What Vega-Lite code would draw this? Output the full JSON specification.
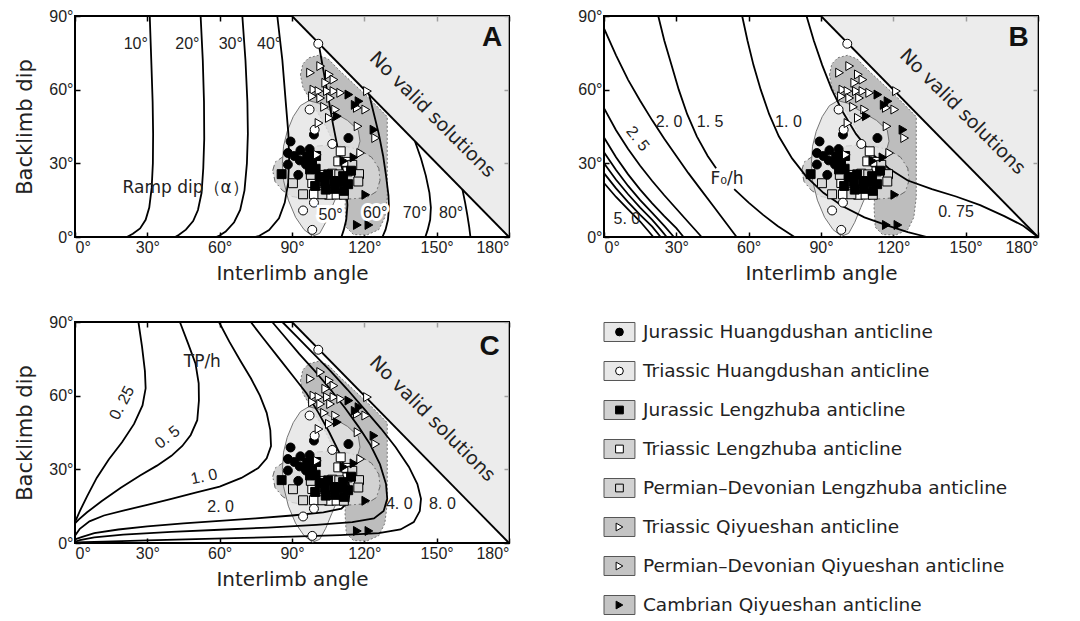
{
"$schema": "https://vega.github.io/schema/vega-lite/v6.json",
"background": "white",
"padding": {"left": 13, "top": 7, "right": 5, "bottom": 5},
"datasets": {
"tri": [{"x":90,"y":90,"y2":90},{"x":180,"y":0,"y2":90}],
"blobs": [
{"g":"Q","x":93.5,"y":66},{"g":"Q","x":94.5,"y":70.5},{"g":"Q","x":97,"y":73},{"g":"Q","x":101,"y":74},{"g":"Q","x":105,"y":72.5},{"g":"Q","x":110,"y":67.5},{"g":"Q","x":116,"y":62},{"g":"Q","x":122,"y":56.5},{"g":"Q","x":127,"y":51.5},{"g":"Q","x":129.5,"y":49},{"g":"Q","x":129.5,"y":40},{"g":"Q","x":129.5,"y":28},{"g":"Q","x":129.5,"y":16},{"g":"Q","x":128.5,"y":8},{"g":"Q","x":126,"y":3},{"g":"Q","x":121,"y":0.8},{"g":"Q","x":115.5,"y":1},{"g":"Q","x":112.5,"y":4},{"g":"Q","x":112,"y":12},{"g":"Q","x":112.5,"y":22},{"g":"Q","x":110,"y":33},{"g":"Q","x":104,"y":45},{"g":"Q","x":98,"y":55},{"g":"Q","x":94.5,"y":61},{"g":"Q","x":93.5,"y":66},
{"g":"L","x":82,"y":27},{"g":"L","x":83,"y":30.5},{"g":"L","x":86,"y":32.5},{"g":"L","x":90,"y":33.5},{"g":"L","x":95,"y":35.5},{"g":"L","x":100,"y":37},{"g":"L","x":106,"y":37.5},{"g":"L","x":112,"y":37},{"g":"L","x":118,"y":35.5},{"g":"L","x":123,"y":32.5},{"g":"L","x":126,"y":28},{"g":"L","x":126.5,"y":23},{"g":"L","x":125,"y":18.5},{"g":"L","x":121,"y":16},{"g":"L","x":114,"y":15.5},{"g":"L","x":105,"y":15.5},{"g":"L","x":96,"y":15.5},{"g":"L","x":90,"y":16.5},{"g":"L","x":86,"y":19},{"g":"L","x":83,"y":22.5},{"g":"L","x":82,"y":27},
{"g":"H","x":97,"y":55.5},{"g":"H","x":93.5,"y":53.5},{"g":"H","x":90.5,"y":49},{"g":"H","x":88,"y":43},{"g":"H","x":86.5,"y":37},{"g":"H","x":86,"y":30},{"g":"H","x":86.5,"y":23},{"g":"H","x":88.5,"y":15},{"g":"H","x":91.5,"y":8},{"g":"H","x":95,"y":3},{"g":"H","x":98.5,"y":0.3},{"g":"H","x":101.5,"y":1.5},{"g":"H","x":104,"y":6},{"g":"H","x":106.5,"y":12},{"g":"H","x":109.5,"y":19},{"g":"H","x":113,"y":26},{"g":"H","x":116.5,"y":33},{"g":"H","x":118.2,"y":39},{"g":"H","x":117.5,"y":43.5},{"g":"H","x":113,"y":47.5},{"g":"H","x":106,"y":51.5},{"g":"H","x":101,"y":54.5},{"g":"H","x":97,"y":55.5}
],
"pts": [
{"g":"TL","x":110.2,"y":34.9},{"g":"TL","x":109.2,"y":30.8},{"g":"TL","x":112.5,"y":30.6},{"g":"TL","x":113,"y":26.7},{"g":"TL","x":106.7,"y":25.8},{"g":"TL","x":102.6,"y":21.9},{"g":"TL","x":98.4,"y":22},{"g":"TL","x":99.1,"y":17.4},{"g":"TL","x":105.4,"y":17.2},{"g":"TL","x":108.5,"y":17.3},{"g":"TL","x":103.3,"y":25.3},
{"g":"PL","x":115,"y":29.4},{"g":"PL","x":117.8,"y":25.6},{"g":"PL","x":117.5,"y":22.6},{"g":"PL","x":109.6,"y":25.5},{"g":"PL","x":104.7,"y":21.9},{"g":"PL","x":97.8,"y":25.3},{"g":"PL","x":90.4,"y":21.9},{"g":"PL","x":94.6,"y":17.4},{"g":"PL","x":102.6,"y":17.4},{"g":"PL","x":111.5,"y":17.2},
{"g":"JL","x":85.7,"y":25.6},{"g":"JL","x":96.3,"y":32.8},{"g":"JL","x":98.3,"y":30.3},{"g":"JL","x":100,"y":33},{"g":"JL","x":97.5,"y":27.5},{"g":"JL","x":99.8,"y":27.8},{"g":"JL","x":101.5,"y":24.5},{"g":"JL","x":103.5,"y":22.5},{"g":"JL","x":105,"y":25.5},{"g":"JL","x":107.3,"y":22.8},{"g":"JL","x":109.5,"y":22.5},{"g":"JL","x":111.2,"y":24.8},{"g":"JL","x":113.3,"y":21.5},{"g":"JL","x":104,"y":19.3},{"g":"JL","x":107.7,"y":19.6},{"g":"JL","x":111.5,"y":18.8},{"g":"JL","x":99.6,"y":20.8},{"g":"JL","x":114.5,"y":27},
{"g":"JH","x":89.4,"y":38.9},{"g":"JH","x":99.1,"y":41.7},{"g":"JH","x":113.4,"y":40.3},{"g":"JH","x":88.3,"y":34.2},{"g":"JH","x":93.5,"y":35.3},{"g":"JH","x":97.3,"y":35.8},{"g":"JH","x":88.3,"y":29.5},{"g":"JH","x":93.2,"y":31.2},{"g":"JH","x":92.6,"y":25.3},{"g":"JH","x":95.8,"y":29.5},{"g":"JH","x":91,"y":33},
{"g":"TH","x":100.9,"y":78.7},{"g":"TH","x":97.3,"y":51.9},{"g":"TH","x":99.4,"y":43.7},{"g":"TH","x":106.7,"y":37.9},{"g":"TH","x":99.1,"y":14},{"g":"TH","x":94.6,"y":10.8},{"g":"TH","x":98.4,"y":2.9},
{"g":"TQ","x":97.7,"y":66.9},{"g":"TQ","x":101.9,"y":69.6},{"g":"TQ","x":105.5,"y":66.2},{"g":"TQ","x":104,"y":62.8},{"g":"TQ","x":99.1,"y":60},{"g":"TQ","x":101.2,"y":59.4},{"g":"TQ","x":104.7,"y":59.4},{"g":"TQ","x":98.5,"y":57.3},{"g":"TQ","x":101.9,"y":56.6},{"g":"TQ","x":105.5,"y":48.5},{"g":"TQ","x":101.2,"y":46.4},{"g":"TQ","x":100.5,"y":33.5},
{"g":"PQ","x":107.4,"y":64.1},{"g":"PQ","x":107.4,"y":59.4},{"g":"PQ","x":110.2,"y":58.7},{"g":"PQ","x":106,"y":56.6},{"g":"PQ","x":108.1,"y":51.9},{"g":"PQ","x":117.1,"y":52.6},{"g":"PQ","x":120.6,"y":51.9},{"g":"PQ","x":121.3,"y":59.4},{"g":"PQ","x":117.4,"y":45.1},{"g":"PQ","x":124.7,"y":40.3},{"g":"PQ","x":118.5,"y":34.2},{"g":"PQ","x":103.5,"y":53},
{"g":"CQ","x":113.6,"y":58},{"g":"CQ","x":117.8,"y":55.3},{"g":"CQ","x":116.2,"y":53.8},{"g":"CQ","x":108.8,"y":49.2},{"g":"CQ","x":124,"y":43.7},{"g":"CQ","x":115.7,"y":32.4},{"g":"CQ","x":120.6,"y":17.2},{"g":"CQ","x":117.1,"y":4.9},{"g":"CQ","x":121.9,"y":4.9},{"g":"CQ","x":111.5,"y":31}
],
"contA": [
{"c":"10","x":31,"y":90},{"c":"10","x":31.7,"y":70},{"c":"10","x":32.2,"y":55},{"c":"10","x":32.4,"y":42},{"c":"10","x":32.3,"y":30},{"c":"10","x":31.8,"y":20},{"c":"10","x":30.8,"y":12},{"c":"10","x":29.3,"y":7},{"c":"10","x":27,"y":3.5},{"c":"10","x":24,"y":1.3},{"c":"10","x":21.5,"y":0},
{"c":"20","x":52.1,"y":90},{"c":"20","x":53,"y":72},{"c":"20","x":53.5,"y":55},{"c":"20","x":53.6,"y":40},{"c":"20","x":53.2,"y":28},{"c":"20","x":52.5,"y":18},{"c":"20","x":51,"y":11},{"c":"20","x":49,"y":6.5},{"c":"20","x":46,"y":3},{"c":"20","x":43,"y":0.8},{"c":"20","x":41.5,"y":0},
{"c":"30","x":69.4,"y":90},{"c":"30","x":70.7,"y":72},{"c":"30","x":71.5,"y":55},{"c":"30","x":71.7,"y":42},{"c":"30","x":71.3,"y":30},{"c":"30","x":70.3,"y":19},{"c":"30","x":68.5,"y":11},{"c":"30","x":66,"y":6},{"c":"30","x":62.5,"y":2.2},{"c":"30","x":60,"y":0.6},{"c":"30","x":58.5,"y":0},
{"c":"40","x":83.9,"y":90},{"c":"40","x":86,"y":72},{"c":"40","x":87.4,"y":55},{"c":"40","x":88.5,"y":42},{"c":"40","x":88.8,"y":32},{"c":"40","x":88.4,"y":22},{"c":"40","x":87,"y":14},{"c":"40","x":84.6,"y":7.6},{"c":"40","x":80.5,"y":2.8},{"c":"40","x":76.5,"y":0.5},{"c":"40","x":74.5,"y":0},
{"c":"50","x":101,"y":79},{"c":"50","x":103,"y":68},{"c":"50","x":105,"y":57},{"c":"50","x":107,"y":46},{"c":"50","x":109,"y":36},{"c":"50","x":111,"y":27},{"c":"50","x":112.5,"y":19},{"c":"50","x":113,"y":13},{"c":"50","x":112.5,"y":7},{"c":"50","x":111.5,"y":3},{"c":"50","x":110.5,"y":0},
{"c":"60","x":122,"y":58},{"c":"60","x":124,"y":50},{"c":"60","x":126,"y":42},{"c":"60","x":127.8,"y":33},{"c":"60","x":129,"y":25},{"c":"60","x":130,"y":17},{"c":"60","x":130.2,"y":12},{"c":"60","x":129.8,"y":7},{"c":"60","x":128.8,"y":3},{"c":"60","x":127.5,"y":0},
{"c":"70","x":141,"y":39},{"c":"70","x":143.5,"y":32},{"c":"70","x":145.5,"y":25},{"c":"70","x":147,"y":18},{"c":"70","x":147.6,"y":12},{"c":"70","x":147.3,"y":7},{"c":"70","x":146.3,"y":3},{"c":"70","x":145.3,"y":0},
{"c":"80","x":160.7,"y":19.3},{"c":"80","x":161.8,"y":14},{"c":"80","x":162.7,"y":9},{"c":"80","x":163.5,"y":4},{"c":"80","x":164,"y":0}
],
"contB": [
{"c":"5.0","x":0,"y":22},{"c":"5.0","x":5,"y":16.3},{"c":"5.0","x":10,"y":11.2},{"c":"5.0","x":15,"y":6.3},{"c":"5.0","x":20.5,"y":0},
{"c":"4.5","x":0,"y":26},{"c":"4.5","x":5,"y":19.8},{"c":"4.5","x":10,"y":14.2},{"c":"4.5","x":15,"y":9},{"c":"4.5","x":20,"y":4.2},{"c":"4.5","x":23.5,"y":0},
{"c":"4.0","x":0,"y":30},{"c":"4.0","x":5,"y":23.3},{"c":"4.0","x":10,"y":17.4},{"c":"4.0","x":15,"y":12},{"c":"4.0","x":20,"y":7},{"c":"4.0","x":23.5,"y":3},{"c":"4.0","x":26,"y":0},
{"c":"3.5","x":0,"y":34.5},{"c":"3.5","x":5,"y":27.3},{"c":"3.5","x":10,"y":20.8},{"c":"3.5","x":15,"y":15},{"c":"3.5","x":20,"y":9.8},{"c":"3.5","x":25,"y":4.5},{"c":"3.5","x":29,"y":0},
{"c":"3.0","x":0,"y":40.5},{"c":"3.0","x":5,"y":32.5},{"c":"3.0","x":10,"y":25.5},{"c":"3.0","x":15,"y":19.3},{"c":"3.0","x":20,"y":13.7},{"c":"3.0","x":25,"y":8.5},{"c":"3.0","x":30,"y":3.6},{"c":"3.0","x":33,"y":0},
{"c":"2.5","x":0,"y":52.5},{"c":"2.5","x":5,"y":43.5},{"c":"2.5","x":10,"y":35.8},{"c":"2.5","x":15,"y":29},{"c":"2.5","x":20,"y":22.8},{"c":"2.5","x":25,"y":17},{"c":"2.5","x":30,"y":11.5},{"c":"2.5","x":35,"y":6},{"c":"2.5","x":40.5,"y":0},
{"c":"2.0","x":0,"y":85},{"c":"2.0","x":5,"y":74},{"c":"2.0","x":10,"y":64},{"c":"2.0","x":15,"y":55.5},{"c":"2.0","x":20,"y":47.5},{"c":"2.0","x":25,"y":40},{"c":"2.0","x":30,"y":33},{"c":"2.0","x":35,"y":26},{"c":"2.0","x":40,"y":19.5},{"c":"2.0","x":45,"y":13},{"c":"2.0","x":50,"y":6.5},{"c":"2.0","x":55,"y":0},
{"c":"1.5a","x":22.5,"y":90},{"c":"1.5a","x":25,"y":80},{"c":"1.5a","x":28,"y":70},{"c":"1.5a","x":31,"y":60},{"c":"1.5a","x":34.5,"y":50},{"c":"1.5a","x":38.5,"y":41},{"c":"1.5a","x":43,"y":33},{"c":"1.5a","x":46.5,"y":28},
{"c":"1.5b","x":54,"y":19.5},{"c":"1.5b","x":60,"y":14},{"c":"1.5b","x":66,"y":9},{"c":"1.5b","x":72,"y":4.5},{"c":"1.5b","x":79,"y":0},
{"c":"1.0","x":57.3,"y":90},{"c":"1.0","x":59.5,"y":80},{"c":"1.0","x":62,"y":70},{"c":"1.0","x":65,"y":60},{"c":"1.0","x":68.5,"y":50},{"c":"1.0","x":72.5,"y":41},{"c":"1.0","x":78,"y":32},{"c":"1.0","x":84,"y":24.5},{"c":"1.0","x":91,"y":18},{"c":"1.0","x":99,"y":12.5},{"c":"1.0","x":108,"y":8},{"c":"1.0","x":118,"y":4.5},{"c":"1.0","x":126,"y":2},{"c":"1.0","x":134,"y":0},
{"c":"0.75","x":84,"y":90},{"c":"0.75","x":87,"y":80},{"c":"0.75","x":90.5,"y":70},{"c":"0.75","x":94.5,"y":60},{"c":"0.75","x":99,"y":51},{"c":"0.75","x":104.5,"y":42},{"c":"0.75","x":111,"y":34},{"c":"0.75","x":118,"y":28},{"c":"0.75","x":126,"y":23},{"c":"0.75","x":136,"y":19.5},{"c":"0.75","x":146,"y":16.5},{"c":"0.75","x":156,"y":13},{"c":"0.75","x":166,"y":8.5},{"c":"0.75","x":174,"y":4.5},{"c":"0.75","x":180,"y":0}
],
"contC": [
{"c":"0.25","x":26.3,"y":90},{"c":"0.25","x":27.8,"y":80},{"c":"0.25","x":29,"y":70},{"c":"0.25","x":29.3,"y":63},{"c":"0.25","x":28,"y":56},{"c":"0.25","x":24.5,"y":48.5},{"c":"0.25","x":19.5,"y":41},{"c":"0.25","x":14,"y":34},{"c":"0.25","x":9,"y":26.5},{"c":"0.25","x":5,"y":19},{"c":"0.25","x":2,"y":13},{"c":"0.25","x":0,"y":8.5},
{"c":"0.5","x":43.5,"y":90},{"c":"0.5","x":47,"y":81},{"c":"0.5","x":50,"y":73},{"c":"0.5","x":51.3,"y":65},{"c":"0.5","x":51.4,"y":58},{"c":"0.5","x":50.7,"y":50},{"c":"0.5","x":48,"y":44},{"c":"0.5","x":44.5,"y":39.5},{"c":"0.5","x":40,"y":35.5},{"c":"0.5","x":34,"y":31.5},{"c":"0.5","x":27,"y":27.5},{"c":"0.5","x":19,"y":22.5},{"c":"0.5","x":11,"y":17},{"c":"0.5","x":5,"y":12.5},{"c":"0.5","x":1.5,"y":9.5},{"c":"0.5","x":0,"y":8},
{"c":"1.0","x":59.7,"y":90},{"c":"1.0","x":64,"y":82},{"c":"1.0","x":68.7,"y":74},{"c":"1.0","x":73,"y":67},{"c":"1.0","x":76.7,"y":60},{"c":"1.0","x":79.5,"y":53},{"c":"1.0","x":81,"y":46},{"c":"1.0","x":81.3,"y":39.5},{"c":"1.0","x":79.5,"y":34.5},{"c":"1.0","x":76,"y":30.5},{"c":"1.0","x":69,"y":26.5},{"c":"1.0","x":60,"y":23},{"c":"1.0","x":50,"y":20.5},{"c":"1.0","x":40,"y":18},{"c":"1.0","x":30,"y":15.5},{"c":"1.0","x":20,"y":13.2},{"c":"1.0","x":12,"y":11.2},{"c":"1.0","x":6,"y":8.8},{"c":"1.0","x":2,"y":5.8},{"c":"1.0","x":0,"y":3},
{"c":"2.0","x":72.9,"y":90},{"c":"2.0","x":78,"y":83.5},{"c":"2.0","x":84,"y":76},{"c":"2.0","x":90,"y":68.5},{"c":"2.0","x":96,"y":61},{"c":"2.0","x":101,"y":53},{"c":"2.0","x":105.5,"y":45},{"c":"2.0","x":109.5,"y":37},{"c":"2.0","x":112.5,"y":29},{"c":"2.0","x":114,"y":22},{"c":"2.0","x":113.5,"y":17},{"c":"2.0","x":110.5,"y":14},{"c":"2.0","x":103,"y":12.5},{"c":"2.0","x":90,"y":11.2},{"c":"2.0","x":75,"y":10},{"c":"2.0","x":60,"y":9},{"c":"2.0","x":45,"y":8},{"c":"2.0","x":30,"y":6.8},{"c":"2.0","x":18,"y":5.5},{"c":"2.0","x":8,"y":4},{"c":"2.0","x":3,"y":2.5},{"c":"2.0","x":0,"y":1.5},
{"c":"4.0","x":81.8,"y":90},{"c":"4.0","x":87,"y":84},{"c":"4.0","x":93,"y":77},{"c":"4.0","x":99.5,"y":70},{"c":"4.0","x":106,"y":62.5},{"c":"4.0","x":112,"y":55},{"c":"4.0","x":117.5,"y":47.5},{"c":"4.0","x":122.5,"y":40},{"c":"4.0","x":126.5,"y":32},{"c":"4.0","x":129,"y":24},{"c":"4.0","x":129.5,"y":18},{"c":"4.0","x":128,"y":13},{"c":"4.0","x":124,"y":10},{"c":"4.0","x":115,"y":8.5},{"c":"4.0","x":100,"y":7.4},{"c":"4.0","x":80,"y":6.3},{"c":"4.0","x":60,"y":5.4},{"c":"4.0","x":40,"y":4.5},{"c":"4.0","x":20,"y":3.4},{"c":"4.0","x":8,"y":2.3},{"c":"4.0","x":2,"y":1.2},{"c":"4.0","x":0,"y":0.5},
{"c":"8.0","x":86,"y":90},{"c":"8.0","x":92,"y":84},{"c":"8.0","x":99,"y":77},{"c":"8.0","x":106,"y":70},{"c":"8.0","x":113,"y":62.5},{"c":"8.0","x":120,"y":54.5},{"c":"8.0","x":127,"y":46.5},{"c":"8.0","x":133,"y":39},{"c":"8.0","x":138.5,"y":31},{"c":"8.0","x":142,"y":24},{"c":"8.0","x":143.5,"y":18},{"c":"8.0","x":143,"y":13},{"c":"8.0","x":140.5,"y":8.5},{"c":"8.0","x":135,"y":5.5},{"c":"8.0","x":126,"y":4},{"c":"8.0","x":110,"y":3.2},{"c":"8.0","x":90,"y":2.6},{"c":"8.0","x":70,"y":2.1},{"c":"8.0","x":50,"y":1.6},{"c":"8.0","x":30,"y":1.1},{"c":"8.0","x":12,"y":0.6},{"c":"8.0","x":0,"y":0.2}
],
"labA": [
{"k":"v","x":25.2,"y":78.4,"t":"10°"},{"k":"v","x":46.6,"y":78.4,"t":"20°"},{"k":"v","x":64.6,"y":78.4,"t":"30°"},{"k":"v","x":80.5,"y":78.4,"t":"40°"},
{"k":"h","x":106,"y":9,"t":"50°"},{"k":"h","x":124.5,"y":9.7,"t":"60°"},{"k":"v","x":141,"y":9.7,"t":"70°"},{"k":"v","x":156,"y":9.7,"t":"80°"},
{"k":"n","x":45.9,"y":20,"t":"Ramp dip（α）"},{"k":"L","x":173,"y":81,"t":"A"},{"k":"r","x":148.2,"y":49.8,"t":"No valid solutions"}
],
"labB": [
{"k":"v","x":9.5,"y":7.5,"t":"5. 0"},{"k":"r52","x":14,"y":40,"t":"2. 5"},{"k":"v","x":27,"y":47,"t":"2. 0"},{"k":"v","x":44,"y":47,"t":"1. 5"},{"k":"v","x":76.5,"y":47,"t":"1. 0"},
{"k":"n","x":51,"y":23.5,"t":"F₀/h"},{"k":"v","x":146,"y":10,"t":"0. 75"},{"k":"L","x":172,"y":81,"t":"B"},{"k":"r","x":148.7,"y":51,"t":"No valid solutions"}
],
"labC": [
{"k":"n","x":52.8,"y":73.9,"t":"TP/h"},{"k":"r-62","x":19.5,"y":57,"t":"0. 25"},{"k":"r-38","x":38.3,"y":43,"t":"0. 5"},{"k":"r-12","x":53.5,"y":27,"t":"1. 0"},
{"k":"v","x":60.4,"y":14.5,"t":"2. 0"},{"k":"v","x":134.5,"y":15.7,"t":"4. 0"},{"k":"v","x":152.4,"y":15.7,"t":"8. 0"},{"k":"L","x":172,"y":80,"t":"C"},{"k":"r","x":148.2,"y":50.6,"t":"No valid solutions"}
],
"leg": [
{"g":"JH","box":"H","label":"Jurassic Huangdushan anticline"},
{"g":"TH","box":"H","label":"Triassic Huangdushan anticline"},
{"g":"JL","box":"L","label":"Jurassic Lengzhuba anticline"},
{"g":"TL","box":"L","label":"Triassic Lengzhuba anticline"},
{"g":"PL","box":"L","label":"Permian–Devonian Lengzhuba anticline"},
{"g":"TQ","box":"Q","label":"Triassic Qiyueshan anticline"},
{"g":"PQ","box":"Q","label":"Permian–Devonian Qiyueshan anticline"},
{"g":"CQ","box":"Q","label":"Cambrian Qiyueshan anticline"}
]
},
"columns": 2,
"spacing": {"row": 85, "column": 95},
"bounds": "flush",
"resolve": {"scale": {"x": "independent", "y": "independent", "fill": "independent", "shape": "independent", "strokeDash": "independent"}},
"concat": [
{"width": 434, "height": 221,
 "layer": [
  {"data": {"name": "tri"}, "mark": {"type": "area", "color": "#e4e4e4", "line": {"color": "black", "strokeWidth": 1.8}},
   "encoding": {
    "x": {"field": "x", "type": "quantitative", "scale": {"domain": [0, 180], "nice": false, "zero": false}, "axis": {"orient": "bottom", "values": [0,30,60,90,120,150,180], "labelExpr": "datum.value + '°'", "title": "Interlimb angle"}},
    "y": {"field": "y", "type": "quantitative", "scale": {"domain": [0, 90], "nice": false, "zero": false}, "axis": {"orient": "left", "values": [0,30,60,90], "labelExpr": "datum.value + '°'", "title": "Backlimb dip"}},
    "y2": {"field": "y2"}}},
  {"data": {"name": "blobs"}, "transform": [{"filter": "datum.g == 'Q'"}], "mark": {"type": "line", "fill": "#bdbdbd", "stroke": "#777", "strokeWidth": 1, "strokeDash": [2, 2]},
   "encoding": {"x": {"field": "x", "type": "quantitative", "axis": null}, "y": {"field": "y", "type": "quantitative", "axis": null}, "order": {"value": null}}},
  {"data": {"name": "blobs"}, "transform": [{"filter": "datum.g == 'L'"}], "mark": {"type": "line", "fill": "#d2d2d2", "stroke": "#666", "strokeWidth": 1, "strokeDash": [6, 3, 1.5, 3]},
   "encoding": {"x": {"field": "x", "type": "quantitative", "axis": null}, "y": {"field": "y", "type": "quantitative", "axis": null}, "order": {"value": null}}},
  {"data": {"name": "blobs"}, "transform": [{"filter": "datum.g == 'H'"}], "mark": {"type": "line", "fill": "#e4e4e4", "fillOpacity": 0.8, "stroke": "#666", "strokeWidth": 0.9},
   "encoding": {"x": {"field": "x", "type": "quantitative", "axis": null}, "y": {"field": "y", "type": "quantitative", "axis": null}, "order": {"value": null}}},
  {"data": {"name": "contA"}, "mark": {"type": "line", "color": "black", "strokeWidth": 1.8},
   "encoding": {"x": {"field": "x", "type": "quantitative", "axis": {"orient": "top", "values": [0,30,60,90,120,150,180], "labels": false, "title": null}},
    "y": {"field": "y", "type": "quantitative", "axis": {"orient": "right", "values": [0,30,60,90], "labels": false, "title": null}},
    "detail": {"field": "c"}, "order": {"value": null}}},
  {"data": {"name": "pts"}, "mark": {"type": "point", "filled": true, "opacity": 1, "stroke": "black", "strokeWidth": 1, "size": 80},
   "encoding": {"x": {"field": "x", "type": "quantitative", "axis": null}, "y": {"field": "y", "type": "quantitative", "axis": null},
    "shape": {"field": "g", "scale": {"domain": ["JH","TH","JL","TL","PL","TQ","PQ","CQ"], "range": ["circle","circle","square","square","square","triangle-right","triangle-right","triangle-right"]}, "legend": null},
    "fill": {"field": "g", "scale": {"domain": ["JH","TH","JL","TL","PL","TQ","PQ","CQ"], "range": ["black","white","black","white","#d9d9d9","white","white","black"]}, "legend": null}}},
  {"data": {"name": "labA"}, "transform": [{"filter": "datum.k == 'h'"}], "mark": {"type": "text", "font": "Liberation Sans", "fontSize": 16, "color": "white", "stroke": "white", "strokeWidth": 6},
   "encoding": {"x": {"field": "x", "type": "quantitative", "axis": null}, "y": {"field": "y", "type": "quantitative", "axis": null}, "text": {"field": "t"}}},
  {"data": {"name": "labA"}, "transform": [{"filter": "datum.k == 'v' || datum.k == 'h'"}], "mark": {"type": "text", "font": "Liberation Sans", "fontSize": 16, "color": "#222"},
   "encoding": {"x": {"field": "x", "type": "quantitative", "axis": null}, "y": {"field": "y", "type": "quantitative", "axis": null}, "text": {"field": "t"}}},
  {"data": {"name": "labA"}, "transform": [{"filter": "datum.k == 'n'"}], "mark": {"type": "text", "font": "DejaVu Sans", "fontSize": 17, "color": "#222"},
   "encoding": {"x": {"field": "x", "type": "quantitative", "axis": null}, "y": {"field": "y", "type": "quantitative", "axis": null}, "text": {"field": "t"}}},
  {"data": {"name": "labA"}, "transform": [{"filter": "datum.k == 'L'"}], "mark": {"type": "text", "font": "Liberation Sans", "fontSize": 28, "fontWeight": "bold", "color": "#111"},
   "encoding": {"x": {"field": "x", "type": "quantitative", "axis": null}, "y": {"field": "y", "type": "quantitative", "axis": null}, "text": {"field": "t"}}},
  {"data": {"name": "labA"}, "transform": [{"filter": "datum.k == 'r'"}], "mark": {"type": "text", "font": "DejaVu Sans", "fontSize": 19, "angle": 45, "color": "#222"},
   "encoding": {"x": {"field": "x", "type": "quantitative", "axis": null}, "y": {"field": "y", "type": "quantitative", "axis": null}, "text": {"field": "t"}}}
 ]},
{"width": 434, "height": 221,
 "layer": [
  {"data": {"name": "tri"}, "mark": {"type": "area", "color": "#e4e4e4", "line": {"color": "black", "strokeWidth": 1.8}},
   "encoding": {
    "x": {"field": "x", "type": "quantitative", "scale": {"domain": [0, 180], "nice": false, "zero": false}, "axis": {"orient": "bottom", "values": [0,30,60,90,120,150,180], "labelExpr": "datum.value + '°'", "title": "Interlimb angle"}},
    "y": {"field": "y", "type": "quantitative", "scale": {"domain": [0, 90], "nice": false, "zero": false}, "axis": {"orient": "left", "values": [0,30,60,90], "labelExpr": "datum.value + '°'", "title": null}},
    "y2": {"field": "y2"}}},
  {"data": {"name": "blobs"}, "transform": [{"filter": "datum.g == 'Q'"}], "mark": {"type": "line", "fill": "#bdbdbd", "stroke": "#777", "strokeWidth": 1, "strokeDash": [2, 2]},
   "encoding": {"x": {"field": "x", "type": "quantitative", "axis": null}, "y": {"field": "y", "type": "quantitative", "axis": null}, "order": {"value": null}}},
  {"data": {"name": "blobs"}, "transform": [{"filter": "datum.g == 'L'"}], "mark": {"type": "line", "fill": "#d2d2d2", "stroke": "#666", "strokeWidth": 1, "strokeDash": [6, 3, 1.5, 3]},
   "encoding": {"x": {"field": "x", "type": "quantitative", "axis": null}, "y": {"field": "y", "type": "quantitative", "axis": null}, "order": {"value": null}}},
  {"data": {"name": "blobs"}, "transform": [{"filter": "datum.g == 'H'"}], "mark": {"type": "line", "fill": "#e4e4e4", "fillOpacity": 0.8, "stroke": "#666", "strokeWidth": 0.9},
   "encoding": {"x": {"field": "x", "type": "quantitative", "axis": null}, "y": {"field": "y", "type": "quantitative", "axis": null}, "order": {"value": null}}},
  {"data": {"name": "contB"}, "mark": {"type": "line", "color": "black", "strokeWidth": 1.8},
   "encoding": {"x": {"field": "x", "type": "quantitative", "axis": {"orient": "top", "values": [0,30,60,90,120,150,180], "labels": false, "title": null}},
    "y": {"field": "y", "type": "quantitative", "axis": {"orient": "right", "values": [0,30,60,90], "labels": false, "title": null}},
    "detail": {"field": "c"}, "order": {"value": null}}},
  {"data": {"name": "pts"}, "mark": {"type": "point", "filled": true, "opacity": 1, "stroke": "black", "strokeWidth": 1, "size": 80},
   "encoding": {"x": {"field": "x", "type": "quantitative", "axis": null}, "y": {"field": "y", "type": "quantitative", "axis": null},
    "shape": {"field": "g", "scale": {"domain": ["JH","TH","JL","TL","PL","TQ","PQ","CQ"], "range": ["circle","circle","square","square","square","triangle-right","triangle-right","triangle-right"]}, "legend": null},
    "fill": {"field": "g", "scale": {"domain": ["JH","TH","JL","TL","PL","TQ","PQ","CQ"], "range": ["black","white","black","white","#d9d9d9","white","white","black"]}, "legend": null}}},
  {"data": {"name": "labB"}, "transform": [{"filter": "datum.k == 'v'"}], "mark": {"type": "text", "font": "Liberation Sans", "fontSize": 16, "color": "#222"},
   "encoding": {"x": {"field": "x", "type": "quantitative", "axis": null}, "y": {"field": "y", "type": "quantitative", "axis": null}, "text": {"field": "t"}}},
  {"data": {"name": "labB"}, "transform": [{"filter": "datum.k == 'r52'"}], "mark": {"type": "text", "font": "Liberation Sans", "fontSize": 16, "angle": 52, "color": "#222"},
   "encoding": {"x": {"field": "x", "type": "quantitative", "axis": null}, "y": {"field": "y", "type": "quantitative", "axis": null}, "text": {"field": "t"}}},
  {"data": {"name": "labB"}, "transform": [{"filter": "datum.k == 'n'"}], "mark": {"type": "text", "font": "DejaVu Sans", "fontSize": 17, "color": "#222"},
   "encoding": {"x": {"field": "x", "type": "quantitative", "axis": null}, "y": {"field": "y", "type": "quantitative", "axis": null}, "text": {"field": "t"}}},
  {"data": {"name": "labB"}, "transform": [{"filter": "datum.k == 'L'"}], "mark": {"type": "text", "font": "Liberation Sans", "fontSize": 28, "fontWeight": "bold", "color": "#111"},
   "encoding": {"x": {"field": "x", "type": "quantitative", "axis": null}, "y": {"field": "y", "type": "quantitative", "axis": null}, "text": {"field": "t"}}},
  {"data": {"name": "labB"}, "transform": [{"filter": "datum.k == 'r'"}], "mark": {"type": "text", "font": "DejaVu Sans", "fontSize": 19, "angle": 45, "color": "#222"},
   "encoding": {"x": {"field": "x", "type": "quantitative", "axis": null}, "y": {"field": "y", "type": "quantitative", "axis": null}, "text": {"field": "t"}}}
 ]},
{"width": 434, "height": 221,
 "layer": [
  {"data": {"name": "tri"}, "mark": {"type": "area", "color": "#e4e4e4", "line": {"color": "black", "strokeWidth": 1.8}},
   "encoding": {
    "x": {"field": "x", "type": "quantitative", "scale": {"domain": [0, 180], "nice": false, "zero": false}, "axis": {"orient": "bottom", "values": [0,30,60,90,120,150,180], "labelExpr": "datum.value + '°'", "title": "Interlimb angle"}},
    "y": {"field": "y", "type": "quantitative", "scale": {"domain": [0, 90], "nice": false, "zero": false}, "axis": {"orient": "left", "values": [0,30,60,90], "labelExpr": "datum.value + '°'", "title": "Backlimb dip"}},
    "y2": {"field": "y2"}}},
  {"data": {"name": "blobs"}, "transform": [{"filter": "datum.g == 'Q'"}], "mark": {"type": "line", "fill": "#bdbdbd", "stroke": "#777", "strokeWidth": 1, "strokeDash": [2, 2]},
   "encoding": {"x": {"field": "x", "type": "quantitative", "axis": null}, "y": {"field": "y", "type": "quantitative", "axis": null}, "order": {"value": null}}},
  {"data": {"name": "blobs"}, "transform": [{"filter": "datum.g == 'L'"}], "mark": {"type": "line", "fill": "#d2d2d2", "stroke": "#666", "strokeWidth": 1, "strokeDash": [6, 3, 1.5, 3]},
   "encoding": {"x": {"field": "x", "type": "quantitative", "axis": null}, "y": {"field": "y", "type": "quantitative", "axis": null}, "order": {"value": null}}},
  {"data": {"name": "blobs"}, "transform": [{"filter": "datum.g == 'H'"}], "mark": {"type": "line", "fill": "#e4e4e4", "fillOpacity": 0.8, "stroke": "#666", "strokeWidth": 0.9},
   "encoding": {"x": {"field": "x", "type": "quantitative", "axis": null}, "y": {"field": "y", "type": "quantitative", "axis": null}, "order": {"value": null}}},
  {"data": {"name": "contC"}, "mark": {"type": "line", "color": "black", "strokeWidth": 1.8},
   "encoding": {"x": {"field": "x", "type": "quantitative", "axis": {"orient": "top", "values": [0,30,60,90,120,150,180], "labels": false, "title": null}},
    "y": {"field": "y", "type": "quantitative", "axis": {"orient": "right", "values": [0,30,60,90], "labels": false, "title": null}},
    "detail": {"field": "c"}, "order": {"value": null}}},
  {"data": {"name": "pts"}, "mark": {"type": "point", "filled": true, "opacity": 1, "stroke": "black", "strokeWidth": 1, "size": 80},
   "encoding": {"x": {"field": "x", "type": "quantitative", "axis": null}, "y": {"field": "y", "type": "quantitative", "axis": null},
    "shape": {"field": "g", "scale": {"domain": ["JH","TH","JL","TL","PL","TQ","PQ","CQ"], "range": ["circle","circle","square","square","square","triangle-right","triangle-right","triangle-right"]}, "legend": null},
    "fill": {"field": "g", "scale": {"domain": ["JH","TH","JL","TL","PL","TQ","PQ","CQ"], "range": ["black","white","black","white","#d9d9d9","white","white","black"]}, "legend": null}}},
  {"data": {"name": "labC"}, "transform": [{"filter": "datum.k == 'v'"}], "mark": {"type": "text", "font": "Liberation Sans", "fontSize": 16, "color": "#222"},
   "encoding": {"x": {"field": "x", "type": "quantitative", "axis": null}, "y": {"field": "y", "type": "quantitative", "axis": null}, "text": {"field": "t"}}},
  {"data": {"name": "labC"}, "transform": [{"filter": "datum.k == 'r-62'"}], "mark": {"type": "text", "font": "Liberation Sans", "fontSize": 16, "angle": -62, "color": "#222"},
   "encoding": {"x": {"field": "x", "type": "quantitative", "axis": null}, "y": {"field": "y", "type": "quantitative", "axis": null}, "text": {"field": "t"}}},
  {"data": {"name": "labC"}, "transform": [{"filter": "datum.k == 'r-38'"}], "mark": {"type": "text", "font": "Liberation Sans", "fontSize": 16, "angle": -38, "color": "#222"},
   "encoding": {"x": {"field": "x", "type": "quantitative", "axis": null}, "y": {"field": "y", "type": "quantitative", "axis": null}, "text": {"field": "t"}}},
  {"data": {"name": "labC"}, "transform": [{"filter": "datum.k == 'r-12'"}], "mark": {"type": "text", "font": "Liberation Sans", "fontSize": 16, "angle": -12, "color": "#222"},
   "encoding": {"x": {"field": "x", "type": "quantitative", "axis": null}, "y": {"field": "y", "type": "quantitative", "axis": null}, "text": {"field": "t"}}},
  {"data": {"name": "labC"}, "transform": [{"filter": "datum.k == 'n'"}], "mark": {"type": "text", "font": "DejaVu Sans", "fontSize": 17, "color": "#222"},
   "encoding": {"x": {"field": "x", "type": "quantitative", "axis": null}, "y": {"field": "y", "type": "quantitative", "axis": null}, "text": {"field": "t"}}},
  {"data": {"name": "labC"}, "transform": [{"filter": "datum.k == 'L'"}], "mark": {"type": "text", "font": "Liberation Sans", "fontSize": 28, "fontWeight": "bold", "color": "#111"},
   "encoding": {"x": {"field": "x", "type": "quantitative", "axis": null}, "y": {"field": "y", "type": "quantitative", "axis": null}, "text": {"field": "t"}}},
  {"data": {"name": "labC"}, "transform": [{"filter": "datum.k == 'r'"}], "mark": {"type": "text", "font": "DejaVu Sans", "fontSize": 19, "angle": 45, "color": "#222"},
   "encoding": {"x": {"field": "x", "type": "quantitative", "axis": null}, "y": {"field": "y", "type": "quantitative", "axis": null}, "text": {"field": "t"}}}
 ]},
{"width": 420, "height": 293,
 "view": {"stroke": null},
 "data": {"name": "leg"},
 "encoding": {"y": {"field": "label", "type": "nominal", "sort": null, "scale": {"paddingInner": 0.513, "paddingOuter": 0.0128}, "axis": null}},
 "resolve": {"scale": {"fill": "independent", "shape": "independent", "strokeDash": "independent"}},
 "layer": [
  {"mark": {"type": "rect", "stroke": "#555", "strokeWidth": 1},
   "encoding": {"x": {"datum": 0, "type": "quantitative", "scale": {"domain": [0.7, 101.5]}, "axis": null}, "x2": {"datum": 8.1},
    "fill": {"field": "box", "type": "nominal", "scale": {"domain": ["H","L","Q"], "range": ["#e8e8e8","#d2d2d2","#c4c4c4"]}, "legend": null},
    "strokeDash": {"field": "box", "type": "nominal", "scale": {"domain": ["H","L","Q"], "range": [[1,0],[6,3,1.5,3],[2,2]]}, "legend": null}}},
  {"mark": {"type": "point", "filled": true, "opacity": 1, "stroke": "black", "strokeWidth": 1, "size": 60},
   "encoding": {"x": {"datum": 4.05, "type": "quantitative"},
    "shape": {"field": "g", "scale": {"domain": ["JH","TH","JL","TL","PL","TQ","PQ","CQ"], "range": ["circle","circle","square","square","square","triangle-right","triangle-right","triangle-right"]}, "legend": null},
    "fill": {"field": "g", "scale": {"domain": ["JH","TH","JL","TL","PL","TQ","PQ","CQ"], "range": ["black","white","black","white","#d9d9d9","white","white","black"]}, "legend": null}}},
  {"mark": {"type": "text", "align": "left", "font": "DejaVu Sans", "fontSize": 18.5, "color": "#222"},
   "encoding": {"x": {"datum": 10.2, "type": "quantitative"}, "text": {"field": "label"}}}
 ]}
],
"config": {
 "view": {"stroke": "black", "strokeWidth": 2},
 "axis": {"grid": false, "domain": false, "labelFont": "Liberation Sans", "labelFontSize": 16, "labelColor": "#222", "titleFont": "DejaVu Sans", "titleFontWeight": "normal", "titleFontSize": 20, "titleColor": "#222", "tickColor": "black", "tickWidth": 1.5, "tickSize": -5, "labelPadding": 7},
 "axisX": {"titlePadding": 8},
 "axisY": {"titlePadding": 13, "titleFontSize": 21}
}
}
